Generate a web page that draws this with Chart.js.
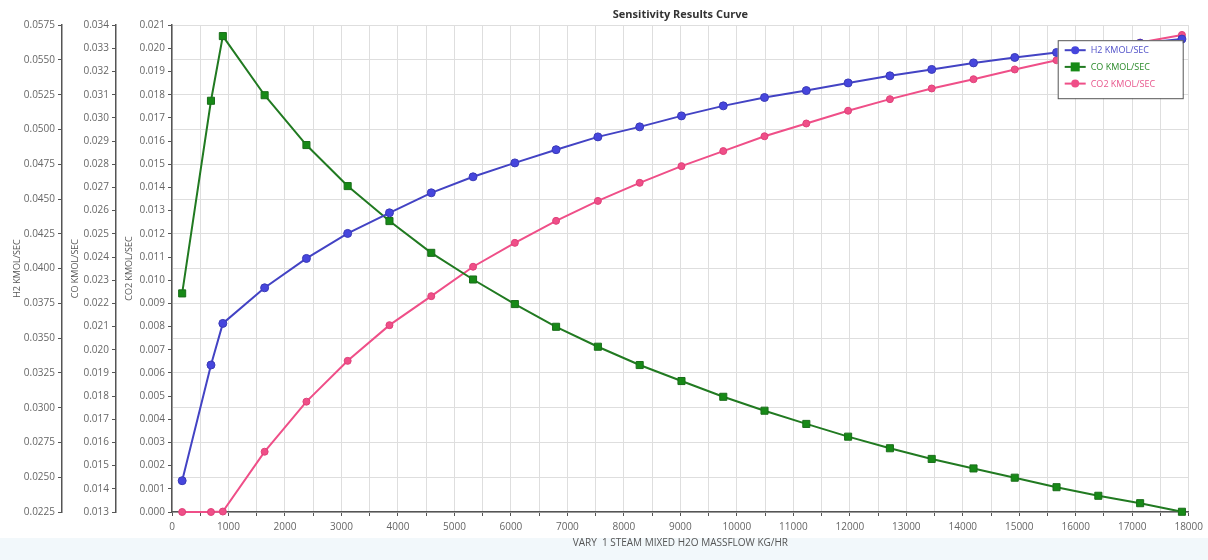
<!DOCTYPE html>
<html>
<head>
<meta charset="utf-8">
<script src="https://cdn.jsdelivr.net/npm/chart.js@4/dist/chart.umd.min.js"></script>
<style>
html,body{margin:0;padding:0;background:#fff;}
#wrap{position:relative;width:1208px;height:560px;overflow:hidden;}
#strip{position:absolute;left:0;top:538px;width:1208px;height:22px;background:#f2f8fb;}
canvas{position:absolute;left:0;top:0;}
</style>
</head>
<body>
<div id="wrap"><div id="strip"></div><canvas id="c" width="1208" height="560"></canvas></div>
<script>
// ---- data ----
const xValues = [180, 690, 900, 1640, 2380, 3110, 3850, 4590, 5330, 6070, 6800, 7540, 8280,
                 9020, 9760, 10490, 11230, 11970, 12710, 13450, 14190, 14920, 15660, 16400, 17140, 17880];
const h2Values = [0.02475, 0.03307, 0.03606, 0.03862, 0.04073, 0.04253, 0.04401, 0.04545, 0.04660,
                  0.04760, 0.04855, 0.04947, 0.05019, 0.05098, 0.05170, 0.05230, 0.05280, 0.05335,
                  0.05386, 0.05432, 0.05479, 0.05518, 0.05554, 0.05590, 0.05620, 0.05650];
const coValues = [0.02243, 0.03074, 0.03353, 0.03098, 0.02883, 0.02706, 0.02555, 0.02418, 0.02303,
                  0.02197, 0.02099, 0.02013, 0.01934, 0.01865, 0.01797, 0.01737, 0.01680, 0.01625,
                  0.01575, 0.01529, 0.01488, 0.01448, 0.01407, 0.01370, 0.01338, 0.01301];
const co2Values = [0.00000, 0.00000, 0.00002, 0.00260, 0.00476, 0.00652, 0.00806, 0.00931, 0.01058,
                   0.01161, 0.01256, 0.01342, 0.01420, 0.01492, 0.01557, 0.01621, 0.01676, 0.01731,
                   0.01781, 0.01827, 0.01867, 0.01909, 0.01949, 0.01990, 0.02025, 0.02058];
const seriesNames = ['H2 KMOL/SEC', 'CO KMOL/SEC', 'CO2 KMOL/SEC'];
const chartTitle = 'Sensitivity Results Curve';
const xTitle = 'VARY  1 STEAM MIXED H2O MASSFLOW KG/HR';

const FONT = "'Open Sans', 'Noto Sans', sans-serif";
const TICK_COLOR = '#666';
const toPts = ys => xValues.map((x, i) => ({x: x, y: ys[i]}));

const boxLegend = {
  id: 'boxLegend',
  afterDraw(chart) {
    const {ctx, chartArea} = chart;
    const w = 125, h = 58;
    const x = chartArea.right - 6 - w, y = chartArea.top + 15;
    ctx.save();
    ctx.fillStyle = '#fff';
    ctx.fillRect(x, y, w, h);
    ctx.strokeStyle = '#555';
    ctx.lineWidth = 1;
    ctx.strokeRect(x + 0.5, y + 0.5, w, h);
    chart.data.datasets.forEach((ds, i) => {
      const cy = y + 10 + i * 16.7;
      ctx.strokeStyle = ds.borderColor;
      ctx.lineWidth = 2;
      ctx.beginPath(); ctx.moveTo(x + 7, cy); ctx.lineTo(x + 28, cy); ctx.stroke();
      ctx.fillStyle = ds.pointBackgroundColor;
      const mx = x + 17.5;
      if (ds.pointStyle === 'rect') {
        ctx.fillRect(mx - 4.5, cy - 4.5, 9, 9);
      } else {
        ctx.beginPath(); ctx.arc(mx, cy, 4, 0, Math.PI * 2); ctx.fill();
      }
      ctx.fillStyle = ds.legendText;
      ctx.font = "9px " + FONT;
      ctx.textBaseline = 'middle';
      ctx.textAlign = 'left';
      ctx.fillText(ds.label, x + 33, cy + 0.5);
    });
    ctx.restore();
  }
};

function yAxis(opts) {
  return {
    type: 'linear',
    position: 'left',
    weight: opts.weight,
    min: opts.min, max: opts.max,
    afterFit(s) { s.width = opts.width; },
    ticks: {
      stepSize: opts.step, autoSkip: false, padding: 3,
      color: TICK_COLOR, font: {family: FONT, size: 10},
      callback: v => v.toFixed(opts.dec)
    },
    grid: {
      drawOnChartArea: opts.grid, color: '#dedede', lineWidth: 1,
      tickColor: '#555', tickLength: 4
    },
    border: {display: true, color: '#555', width: 1.5},
    title: {
      display: true, text: opts.title, color: '#555',
      font: {family: FONT, size: 9}, padding: {top: opts.tpad, bottom: 0}
    }
  };
}

new Chart(document.getElementById('c'), {
  type: 'line',
  data: {
    datasets: [
      {label: seriesNames[0], data: toPts(h2Values), yAxisID: 'yH2',
       borderColor: '#4343c4', backgroundColor: '#4646dd', pointBackgroundColor: '#4646dd',
       pointBorderColor: '#3a3ab8', pointStyle: 'circle', pointRadius: 4, legendText: '#5050c8'},
      {label: seriesNames[1], data: toPts(coValues), yAxisID: 'yCO',
       borderColor: '#217a21', backgroundColor: '#178a17', pointBackgroundColor: '#178a17',
       pointBorderColor: '#1a6e1a', pointStyle: 'rect', pointRadius: 5, legendText: '#2a8a2a'},
      {label: seriesNames[2], data: toPts(co2Values), yAxisID: 'yCO2',
       borderColor: '#ef4f88', backgroundColor: '#ef4f88', pointBackgroundColor: '#ef4f88',
       pointBorderColor: '#e0407a', pointStyle: 'circle', pointRadius: 3.5, legendText: '#e8578d'}
    ]
  },
  options: {
    responsive: false,
    animation: false,
    parsing: true,
    layout: {padding: {top: 0, right: 0, bottom: 0, left: 0}},
    elements: {line: {borderWidth: 2, tension: 0}, point: {borderWidth: 1}},
    datasets: {line: {clip: 8}},
    plugins: {
      legend: {display: false},
      tooltip: {enabled: false},
      title: {
        display: true, text: chartTitle, fullSize: false, color: '#333',
        font: {family: FONT, size: 11, weight: 'bold'}, padding: {top: 8, bottom: 4}
      }
    },
    scales: {
      x: {
        type: 'linear', position: 'bottom', min: 0, max: 18000,
        afterFit(s) { s.height = 48; },
        ticks: {
          stepSize: 500, autoSkip: false, maxRotation: 0, padding: 5,
          color: TICK_COLOR, font: {family: FONT, size: 10},
          callback: v => (v % 1000 === 0 ? String(v) : '')
        },
        grid: {color: '#dedede', tickColor: '#555', tickLength: 4},
        border: {display: true, color: '#555', width: 1.5},
        title: {display: true, text: xTitle, color: '#555',
                font: {family: FONT, size: 10}, padding: {top: 0, bottom: 11}}
      },
      yH2: yAxis({weight: 3, min: 0.0225, max: 0.0575, step: 0.0025, dec: 4, width: 62,
                  grid: true, title: seriesNames[0], tpad: 12}),
      yCO: yAxis({weight: 2, min: 0.013, max: 0.034, step: 0.001, dec: 3, width: 54,
                  grid: false, title: seriesNames[1], tpad: 8}),
      yCO2: yAxis({weight: 1, min: 0, max: 0.021, step: 0.001, dec: 3, width: 56,
                   grid: false, title: seriesNames[2], tpad: 8})
    }
  },
  plugins: [boxLegend]
});
</script>
</body>
</html>
